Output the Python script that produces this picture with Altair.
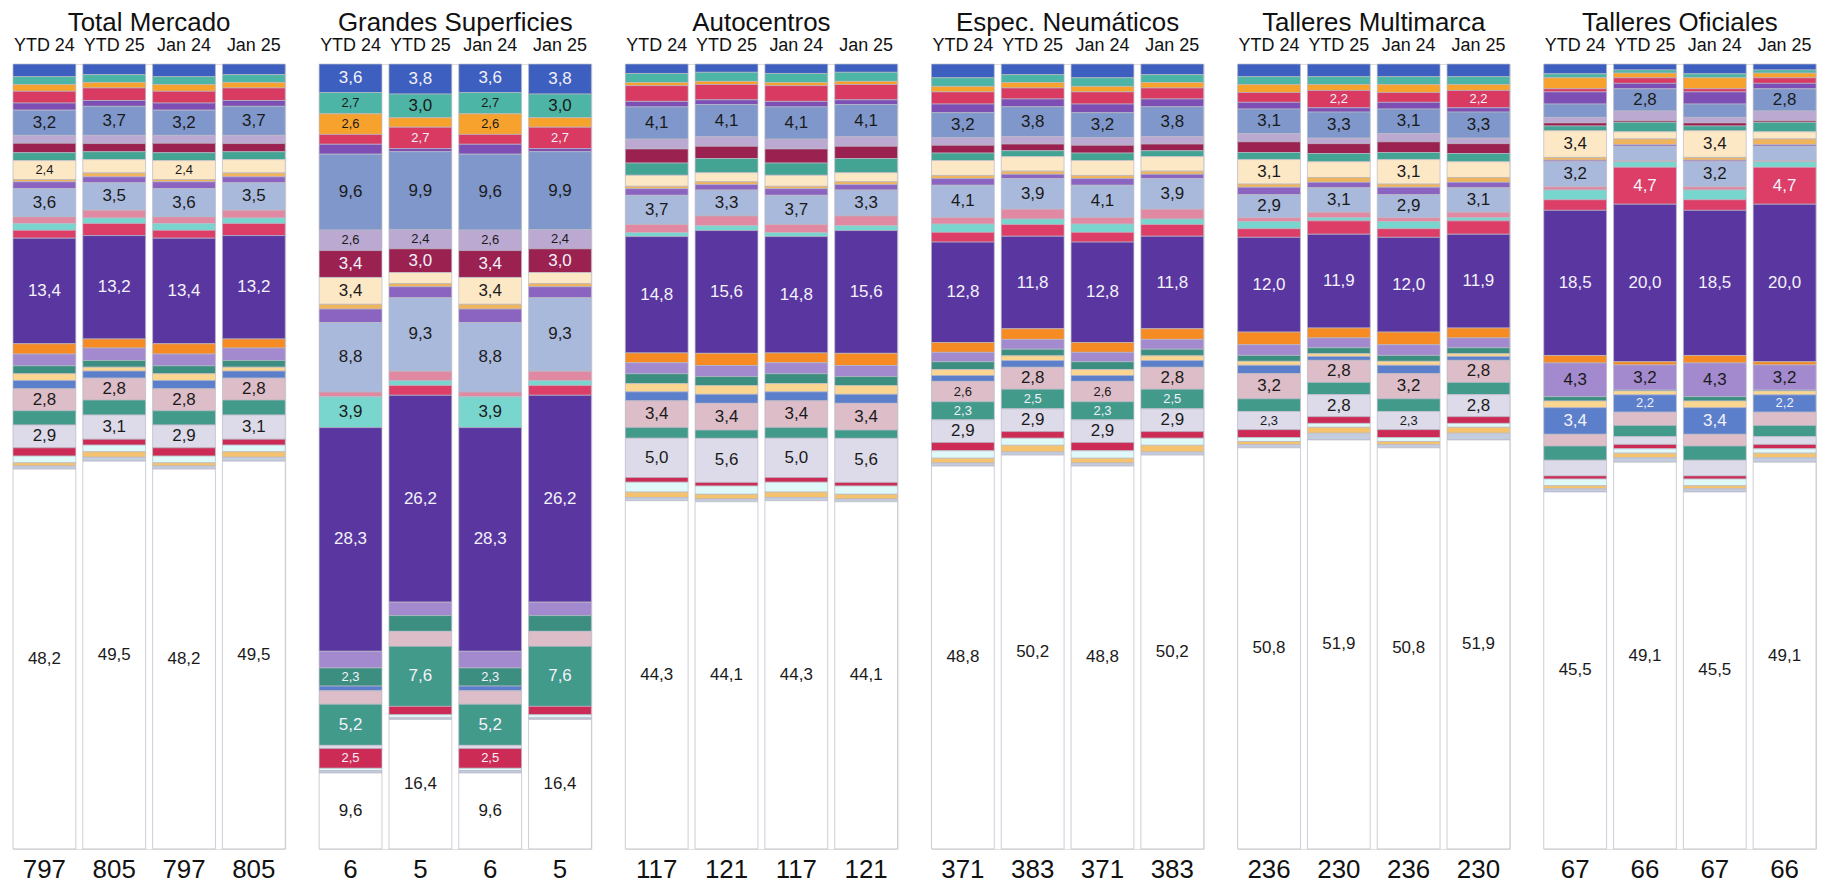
import altair as alt
import pandas as pd

FONT = "Liberation Sans"

groups = ["Total Mercado", "Grandes Superficies", "Autocentros",
          "Espec. Neumáticos", "Talleres Multimarca", "Talleres Oficiales"]
columns = ["YTD 24", "YTD 25", "Jan 24", "Jan 25"]
categories = [f"Marca {i}" for i in range(1, 30)] + ["Otros"]
colors = ["#3d5fbf", "#4cb5a5", "#f6a22c", "#d83a62", "#7d4fb5", "#7f97ca",
          "#bba9d2", "#9a2150", "#43a493", "#fde8c6", "#efb45c", "#8b63c1",
          "#a9b9dc", "#e189a2", "#78d6ce", "#dc3e68", "#5a37a0", "#f68a23",
          "#a389ce", "#3c8f80", "#fbd690", "#5c7fcb", "#dcbdc8", "#419a8a",
          "#dddaea", "#cc2b56", "#dff8f8", "#f5c36d", "#c4cce0", "#ffffff"]
dark_categories = ["Marca 1", "Marca 4", "Marca 8", "Marca 16", "Marca 17",
                   "Marca 20", "Marca 22", "Marca 24", "Marca 26"]

# shares (%) per category, top to bottom
tm_24 = [1.6, 1.0, 0.85, 1.5, 0.9, 3.2, 1.0, 1.2, 1.0, 2.4, 0.3, 0.85, 3.6, 0.85, 0.85,
         1.0, 13.4, 1.3, 1.5, 1.0, 0.85, 1.05, 2.8, 1.8, 2.9, 1.05, 0.85, 0.4, 0.4, 48.2]
tm_25 = [1.35, 1.0, 0.7, 1.6, 0.75, 3.7, 1.05, 1.05, 1.0, 1.7, 0.5, 0.75, 3.5, 1.0, 0.7,
         1.55, 13.2, 1.15, 1.6, 0.85, 0.5, 0.9, 2.8, 1.9, 3.1, 0.75, 0.85, 0.7, 0.5, 49.5]
gs_24 = [3.6, 2.7, 2.6, 1.25, 1.25, 9.6, 2.6, 3.4, 0, 3.4, 0.6, 1.7, 8.8, 0.6, 3.9,
         0, 28.3, 0, 2.1, 2.3, 0, 0.6, 1.7, 5.2, 0.4, 2.5, 0.3, 0, 0.3, 9.6]
gs_25 = [3.8, 3.0, 1.2, 2.7, 0.4, 9.9, 2.4, 3.0, 0, 1.4, 0.4, 1.4, 9.3, 1.2, 0.6,
         1.25, 26.2, 0, 1.7, 2.0, 0, 0, 1.9, 7.6, 0, 1.05, 0.4, 0, 0.2, 16.4]
ac_24 = [1.2, 1.15, 0.4, 2.0, 0.7, 4.1, 1.25, 1.8, 1.55, 1.4, 0.3, 0.85, 3.7, 1.05, 0.5,
         0, 14.8, 1.25, 1.4, 1.25, 1.05, 1.15, 3.4, 1.35, 5.0, 0.6, 1.25, 0.7, 0.4, 44.3]
ac_25 = [1.05, 1.15, 0.4, 1.95, 0.6, 4.1, 1.2, 1.55, 1.8, 1.15, 0.35, 0.7, 3.3, 1.25, 0.6,
         0, 15.6, 1.55, 1.4, 1.15, 1.1, 1.15, 3.4, 1.05, 5.6, 0.45, 1.05, 0.6, 0.35, 44.1]
en_24 = [1.75, 1.1, 0.7, 1.55, 1.1, 3.2, 0.95, 1.0, 0.95, 1.9, 0.4, 0.85, 4.1, 0.85, 1.05,
         1.25, 12.8, 1.25, 1.2, 1.0, 0.75, 0.75, 2.6, 2.3, 2.9, 1.05, 0.95, 0.6, 0.4, 48.8]
en_25 = [1.35, 1.0, 0.7, 1.4, 1.0, 3.8, 0.95, 0.85, 0.75, 1.85, 0.4, 0.55, 3.9, 1.25, 0.7,
         1.5, 11.8, 1.35, 1.25, 0.85, 0.6, 0.85, 2.8, 2.5, 2.9, 0.85, 0.9, 0.85, 0.4, 50.2]
mm_24 = [1.6, 1.0, 1.0, 1.25, 0.85, 3.1, 1.05, 1.35, 0.9, 3.1, 0.4, 0.95, 2.9, 0.5, 0.9,
         1.1, 12.0, 1.6, 1.35, 0.75, 0.5, 1.05, 3.2, 1.6, 2.3, 1.0, 0.5, 0.4, 0.4, 50.8]
mm_25 = [1.6, 1.0, 0.75, 2.2, 0.55, 3.3, 0.7, 1.25, 1.05, 2.0, 0.6, 0.7, 3.1, 0.7, 0.4,
         1.7, 11.9, 1.25, 1.25, 0.75, 0.35, 0.5, 2.8, 1.55, 2.8, 0.85, 0.5, 0.75, 0.85, 51.9]
to_24 = [1.25, 0.5, 1.4, 0.4, 1.55, 1.7, 0.7, 0.4, 0.6, 3.4, 0.35, 0.2, 3.2, 0.4, 1.25,
         1.35, 18.5, 0.95, 4.3, 0.55, 0.85, 3.4, 1.5, 1.8, 2.0, 0.4, 0.85, 0.4, 0.4, 45.5]
to_25 = [0.75, 0.4, 0.6, 0.7, 0.7, 2.8, 1.25, 0.2, 1.2, 0.9, 0.75, 0.2, 1.8, 0.15, 0.7,
         4.7, 20.0, 0.4, 3.2, 0.1, 0.5, 2.2, 1.7, 1.4, 1.0, 0.55, 0.55, 0.6, 0.55, 49.1]

totals_tm = [797, 805, 797, 805]
totals_gs = [6, 5, 6, 5]
totals_ac = [117, 121, 117, 121]
totals_en = [371, 383, 371, 383]
totals_mm = [236, 230, 236, 230]
totals_to = [67, 66, 67, 66]

shares = {
    "Total Mercado": [tm_24, tm_25, tm_24, tm_25],
    "Grandes Superficies": [gs_24, gs_25, gs_24, gs_25],
    "Autocentros": [ac_24, ac_25, ac_24, ac_25],
    "Espec. Neumáticos": [en_24, en_25, en_24, en_25],
    "Talleres Multimarca": [mm_24, mm_25, mm_24, mm_25],
    "Talleres Oficiales": [to_24, to_25, to_24, to_25],
}
totals = {
    "Total Mercado": totals_tm, "Grandes Superficies": totals_gs,
    "Autocentros": totals_ac, "Espec. Neumáticos": totals_en,
    "Talleres Multimarca": totals_mm, "Talleres Oficiales": totals_to,
}

rows = []
tot_rows = []
for g in groups:
    for col, vals, tot in zip(columns, shares[g], totals[g]):
        s = sum(vals)
        acc = 0.0
        for cat, v in zip(categories, vals):
            if v <= 0:
                continue
            h = v / s * 100
            rows.append({"group": g, "col": col, "cat": cat, "v": v,
                         "y0": acc, "y1": acc + h, "mid": acc + h / 2,
                         "lab": f"{v:.1f}".replace(".", ","),
                         "dark": cat in dark_categories})
            acc += h
        tot_rows.append({"group": g, "col": col, "total": str(tot)})

df = pd.DataFrame(rows)
tdf = pd.DataFrame(tot_rows)

W, H = 273, 787


def panel(g):
    d = df[df.group == g]
    t = tdf[tdf.group == g]
    x = alt.X("col:N", sort=columns,
              scale=alt.Scale(domain=columns, paddingInner=0.1, paddingOuter=0),
              axis=alt.Axis(orient="top", title=None, ticks=False, tickSize=0,
                            domain=False, labelAngle=0, labelFontSize=18,
                            labelPadding=10, labelColor="#111", labelFont=FONT))
    y = alt.Y("y0:Q", scale=alt.Scale(domain=[0, 100], reverse=True), axis=None)
    bars = alt.Chart(d).mark_bar(stroke="#b9b9c6", strokeWidth=0.7).encode(
        x=x, y=y, y2="y1:Q",
        color=alt.Color("cat:N", scale=alt.Scale(domain=categories, range=colors),
                        legend=None),
    )
    labels = alt.Chart(d).transform_filter("datum.v >= 2.2").mark_text(
        font=FONT, baseline="middle").encode(
        x=x,
        y=alt.Y("mid:Q", scale=alt.Scale(domain=[0, 100], reverse=True), axis=None),
        text="lab:N",
        color=alt.condition("datum.dark", alt.value("#f4f2fa"), alt.value("#1a1a1a")),
        size=alt.condition("datum.v >= 2.8", alt.value(17), alt.value(13)),
    )
    tots = alt.Chart(t).mark_text(font=FONT, fontSize=26, color="#111",
                                  baseline="middle").encode(
        x=x, y=alt.value(H + 21), text="total:N")
    return alt.layer(bars, labels, tots).properties(
        width=W, height=H,
        title=alt.TitleParams(g, fontSize=26, font=FONT, fontWeight="normal",
                              color="#111", offset=0, anchor="middle"))


chart = alt.hconcat(*[panel(g) for g in groups], spacing=32).properties(
    padding={"left": 4, "top": 0, "right": 4, "bottom": 0}
).configure_view(stroke=None).configure(background="white")

chart.save("out.html", embed_options={"renderer": "svg", "actions": False})
